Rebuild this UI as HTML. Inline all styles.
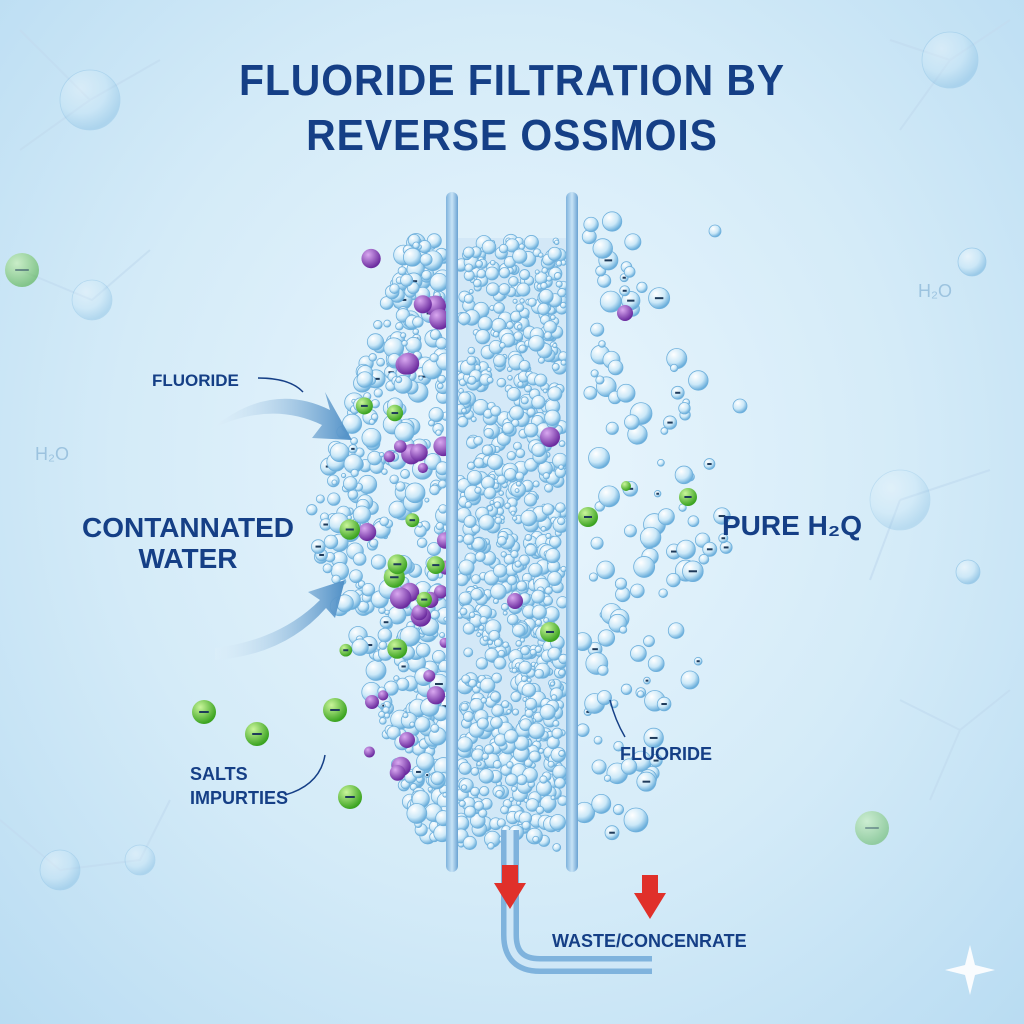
<!DOCTYPE html>
<html><head><meta charset="utf-8"><style>
html,body{margin:0;padding:0;width:1024px;height:1024px;overflow:hidden}
body{background:radial-gradient(ellipse at 50% 45%,#eaf6fd 0%,#d4ebf8 55%,#b9dcf2 100%);font-family:"Liberation Sans",sans-serif}
svg{position:absolute;left:0;top:0}
.t{font-family:"Liberation Sans",sans-serif;font-weight:bold;fill:#153f86}
</style></head><body>
<svg id="s" width="1024" height="1024" viewBox="0 0 1024 1024">
<defs>
<radialGradient id="b" cx="35%" cy="30%" r="70%"><stop offset="0" stop-color="#ffffff"/><stop offset="0.6" stop-color="#cbe8f8"/><stop offset="1" stop-color="#6aaedb"/></radialGradient>
<radialGradient id="p" cx="35%" cy="30%" r="70%"><stop offset="0" stop-color="#d9a8f0"/><stop offset="1" stop-color="#6a2a9e"/></radialGradient>
<radialGradient id="g" cx="35%" cy="30%" r="70%"><stop offset="0" stop-color="#c9f59a"/><stop offset="1" stop-color="#3aa320"/></radialGradient>
<linearGradient id="pipe" x1="0" x2="1"><stop offset="0" stop-color="#7fb3dd"/><stop offset="0.5" stop-color="#c7e3f6"/><stop offset="1" stop-color="#6aa2d2"/></linearGradient>
<linearGradient id="arr" x1="0" x2="1"><stop offset="0" stop-color="#e4f1fa" stop-opacity="0.2"/><stop offset="1" stop-color="#4f8fc6"/></linearGradient>
</defs>
<g fill="none" stroke="#c2dcef" stroke-width="2" opacity="0.7">
<path d="M20 30 L90 100 L20 150 M90 100 L160 60"/><path d="M20 270 L92 300 L150 250"/><path d="M900 500 L990 470 M900 500 L870 580"/><path d="M890 40 L950 60 L1010 20 M950 60 L900 130"/><path d="M0 820 L60 870 L140 860 L170 800"/><path d="M900 700 L960 730 L1010 690 M960 730 L930 800"/>
</g>
<text class="t" x="512" y="95" font-size="44" text-anchor="middle" letter-spacing="1" transform="translate(512 0) scale(0.93 1) translate(-512 0)">FLUORIDE FILTRATION BY</text>
<text class="t" x="512" y="150" font-size="44" text-anchor="middle" letter-spacing="1" transform="translate(512 0) scale(0.93 1) translate(-512 0)">REVERSE OSSMOIS</text>
<rect x="458" y="238" width="108" height="612" fill="#cfe6f6" opacity="0.8"/>
<g id="bub"></g>
<rect x="446" y="192" width="12" height="680" rx="6" fill="url(#pipe)"/>
<rect x="566" y="192" width="12" height="680" rx="6" fill="url(#pipe)"/>
<path d="M510 830 L510 935 Q510 965 540 965 L652 965" fill="none" stroke="#7fb3dd" stroke-width="18"/>
<path d="M510 830 L510 935 Q510 965 540 965 L652 965" fill="none" stroke="#cfe7f7" stroke-width="7"/>
<path d="M210 430 Q270 380 330 410 L325 392 L352 440 L312 438 L322 425 Q270 400 210 430Z" fill="url(#arr)"/>
<path d="M215 648 Q280 640 320 600 L308 592 L345 580 L335 618 L326 608 Q285 655 215 660Z" fill="url(#arr)"/>
<path d="M502 865 h16 v18 h8 l-16 26 l-16 -26 h8z" fill="#e0302a"/>
<path d="M642 875 h16 v18 h8 l-16 26 l-16 -26 h8z" fill="#e0302a"/>
<text class="t" x="152" y="386" font-size="17">FLUORIDE</text>
<path d="M258 378 Q290 378 303 392" fill="none" stroke="#153f86" stroke-width="1.5"/>
<text class="t" x="188" y="537" font-size="28" text-anchor="middle">CONTANNATED</text>
<text class="t" x="188" y="568" font-size="28" text-anchor="middle">WATER</text>
<text class="t" x="722" y="535" font-size="28">PURE H₂Q</text>
<text class="t" x="620" y="760" font-size="18">FLUORIDE</text>
<path d="M625 737 Q615 720 610 700" fill="none" stroke="#153f86" stroke-width="1.5"/>
<text class="t" x="190" y="780" font-size="18">SALTS</text>
<text class="t" x="190" y="804" font-size="18">IMPURTIES</text>
<path d="M285 795 Q320 785 325 755" fill="none" stroke="#153f86" stroke-width="1.5"/>
<text class="t" x="552" y="947" font-size="18">WASTE/CONCENRATE</text>
<text x="918" y="297" font-size="18" fill="#9cc3df">H₂O</text>
<text x="35" y="460" font-size="18" fill="#9cc3df">H₂O</text>
<path d="M970 945 L975 965 L995 970 L975 975 L970 995 L965 975 L945 970 L965 965Z" fill="#fff" opacity="0.9"/>
</svg>
<script>
var g=document.getElementById('bub'),ns='http://www.w3.org/2000/svg',seed=7;
function r(){seed=(seed*16807)%2147483647;return seed/2147483647;}
function c(x,y,rad,f,minus,op){var e=document.createElementNS(ns,'circle');e.setAttribute('cx',x);e.setAttribute('cy',y);e.setAttribute('r',rad);e.setAttribute('fill',f);e.setAttribute('stroke',f=='url(#b)'?'#6fb0dc':'none');e.setAttribute('stroke-width','0.8');if(op)e.setAttribute('opacity',op);g.appendChild(e);
if(minus){var l=document.createElementNS(ns,'rect');l.setAttribute('x',x-rad*0.4);l.setAttribute('y',y-1);l.setAttribute('width',rad*0.8);l.setAttribute('height',2);l.setAttribute('fill','#1e3a5a');if(op)l.setAttribute('opacity',op);g.appendChild(l);}}
for(var i=0;i<900;i++){c(460+r()*104,240+r()*608,2+r()*6,'url(#b)');}
for(i=0;i<480;i++){var y=240+r()*600;var spread=(1-Math.abs(y-520)/300);var x=446-r()*(30+spread*110);c(x,y,2+r()*8,'url(#b)',r()<0.06);}
for(i=0;i<28;i++){var y=250+r()*580;c(446-r()*80,y,5+r()*6,'url(#p)');}
for(i=0;i<10;i++){c(340+r()*100,360+r()*300,6+r()*5,'url(#g)',true);}
for(i=0;i<120;i++){var y=220+r()*620;var x=582+r()*(60+ (1-Math.abs(y-520)/330)*100);c(x,y,3+r()*8,'url(#b)',r()<0.3);}
c(625,313,8,'url(#p)');c(550,437,10,'url(#p)');c(515,601,8,'url(#p)');
c(588,517,10,'url(#g)',true);c(688,497,9,'url(#g)',true);c(550,632,10,'url(#g)',true);c(626,486,5,'url(#g)');
c(204,712,12,'url(#g)',true);c(257,734,12,'url(#g)',true);c(335,710,12,'url(#g)',true);c(350,797,12,'url(#g)',true);c(372,702,7,'url(#p)');c(407,740,8,'url(#p)');
c(22,270,17,'url(#g)',true,0.5);c(872,828,17,'url(#g)',true,0.4);c(90,100,30,'url(#b)',0,0.3);c(950,60,28,'url(#b)',0,0.3);c(972,262,14,'url(#b)',0,0.5);c(968,572,12,'url(#b)',0,0.5);c(900,500,30,'url(#b)',0,0.25);c(60,870,20,'url(#b)',0,0.3);c(140,860,15,'url(#b)',0,0.3);c(92,300,20,'url(#b)',0,0.3);c(740,406,7,'url(#b)');c(715,231,6,'url(#b)');c(690,680,9,'url(#b)');c(636,820,12,'url(#b)');
</script>
</body></html>
